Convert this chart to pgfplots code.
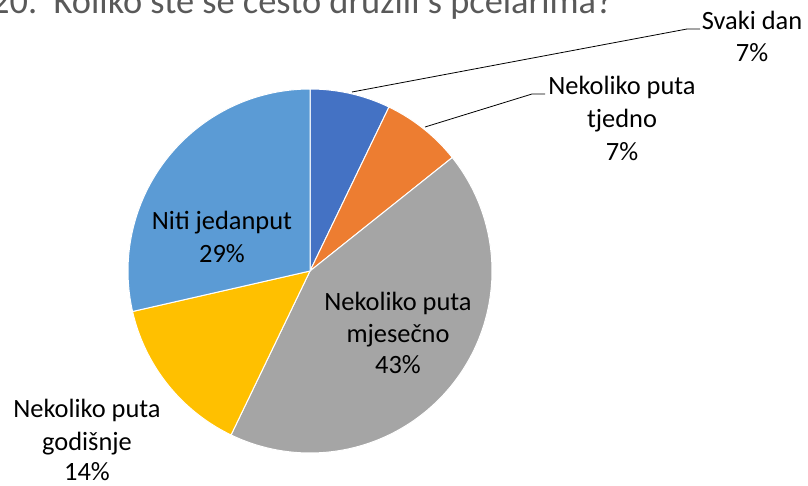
\documentclass[border=0pt]{standalone}
\usepackage{pgfplots}
\pgfplotsset{compat=1.18}
\usepackage{pgfplotstable}
\usepackage{fontspec}
\setmainfont{Carlito}
\definecolor{cA}{HTML}{4472C4}
\definecolor{cB}{HTML}{ED7D31}
\definecolor{cC}{HTML}{A5A5A5}
\definecolor{cD}{HTML}{FFC000}
\definecolor{cE}{HTML}{5B9BD5}
\definecolor{titlegray}{HTML}{595959}
\pgfplotstableread{
idx value
0 7.142857
1 7.142857
2 42.857143
3 14.285714
4 28.571429
}\piedata
\begin{document}
\begin{tikzpicture}
\pgfplotstablegetelem{0}{value}\of\piedata \pgfmathsetmacro{\vA}{\pgfplotsretval}
\pgfplotstablegetelem{1}{value}\of\piedata \pgfmathsetmacro{\vB}{\pgfplotsretval}
\pgfplotstablegetelem{2}{value}\of\piedata \pgfmathsetmacro{\vC}{\pgfplotsretval}
\pgfplotstablegetelem{3}{value}\of\piedata \pgfmathsetmacro{\vD}{\pgfplotsretval}
\pgfplotstablegetelem{4}{value}\of\piedata \pgfmathsetmacro{\vE}{\pgfplotsretval}
\pgfmathsetmacro{\aA}{90}
\pgfmathsetmacro{\aB}{\aA-3.6*\vA}
\pgfmathsetmacro{\aC}{\aB-3.6*\vB}
\pgfmathsetmacro{\aD}{\aC-3.6*\vC}
\pgfmathsetmacro{\aE}{\aD-3.6*\vD}
\pgfmathsetmacro{\aF}{\aE-3.6*\vE}
\begin{axis}[name=ax, scale only axis, width=808bp, height=486bp,
  xmin=0, xmax=808, ymin=0, ymax=486, y dir=reverse, hide axis, clip=false]
\addplot[fill=cA, draw=white, line width=1bp, domain=\aB:\aA, samples=30, variable=\t]
  ({310+182*cos(\t)},{271-182*sin(\t)}) -- (axis cs:310,271) -- cycle;
\addplot[fill=cB, draw=white, line width=1bp, domain=\aC:\aB, samples=30, variable=\t]
  ({310+182*cos(\t)},{271-182*sin(\t)}) -- (axis cs:310,271) -- cycle;
\addplot[fill=cC, draw=white, line width=1bp, domain=\aD:\aC, samples=90, variable=\t]
  ({310+182*cos(\t)},{271-182*sin(\t)}) -- (axis cs:310,271) -- cycle;
\addplot[fill=cD, draw=white, line width=1bp, domain=\aE:\aD, samples=40, variable=\t]
  ({310+182*cos(\t)},{271-182*sin(\t)}) -- (axis cs:310,271) -- cycle;
\addplot[fill=cE, draw=white, line width=1bp, domain=\aF:\aE, samples=70, variable=\t]
  ({310+182*cos(\t)},{271-182*sin(\t)}) -- (axis cs:310,271) -- cycle;
% leader lines
\draw[black, line width=0.8bp] (axis cs:700,29) -- (axis cs:687,29) -- (axis cs:352,92);
\draw[black, line width=0.8bp] (axis cs:545,94) -- (axis cs:532,94) -- (axis cs:425,127);
% title
\node[anchor=base west, text=titlegray, inner sep=0pt, font=\fontsize{36.5}{44}\selectfont]
  at (axis cs:-9,14) {20.~~Koliko ste se često družili s pčelarima?};
% labels
\tikzset{lab/.style={anchor=base, inner sep=0pt, text=black, font=\fontsize{26.5}{32}\selectfont}}
\node[lab] at (axis cs:752,30) {Svaki dan};
\node[lab] at (axis cs:752,62) {7\%};
\node[lab] at (axis cs:622,95) {Nekoliko puta};
\node[lab] at (axis cs:622,128) {tjedno};
\node[lab] at (axis cs:622,160) {7\%};
\node[lab] at (axis cs:222,229) {Niti jedanput};
\node[lab] at (axis cs:222,262) {29\%};
\node[lab] at (axis cs:398,310) {Nekoliko puta};
\node[lab] at (axis cs:398,342) {mjesečno};
\node[lab] at (axis cs:398,373) {43\%};
\node[lab] at (axis cs:87,417) {Nekoliko puta};
\node[lab] at (axis cs:87,450) {godišnje};
\node[lab] at (axis cs:87,480) {14\%};
\end{axis}
\pgfresetboundingbox
\path (ax.south west) rectangle (ax.north east);
\end{tikzpicture}
\end{document}
